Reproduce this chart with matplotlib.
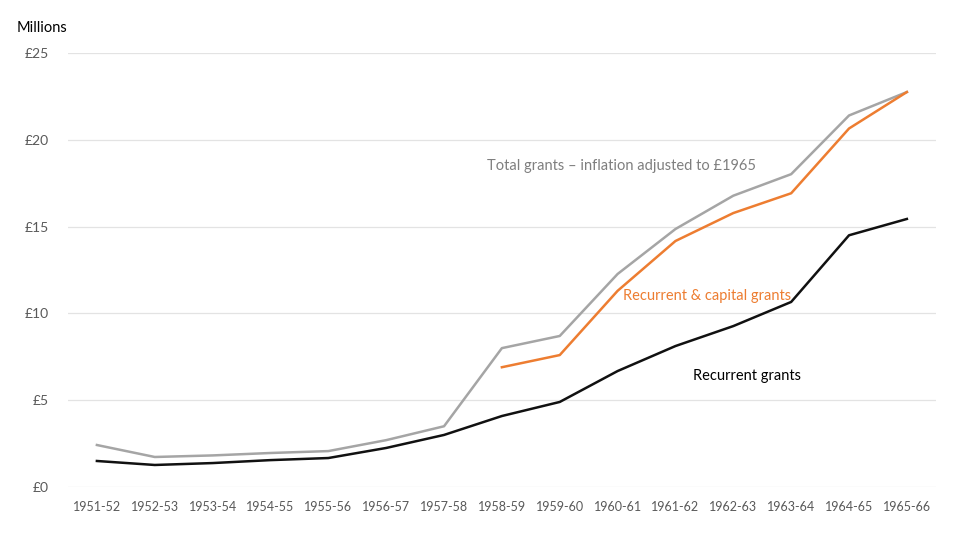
import matplotlib
matplotlib.use("Agg")
import matplotlib.pyplot as plt
import numpy as np

years = ['1951-52', '1952-53', '1953-54', '1954-55', '1955-56', '1956-57', '1957-58',
         '1958-59', '1959-60', '1960-61', '1961-62', '1962-63', '1963-64', '1964-65', '1965-66']

# Millions of pounds
total_adjusted = [2.42, 1.73, 1.82, 1.96, 2.07, 2.7, 3.5, 8.0, 8.7, 12.27, 14.86, 16.78, 18.02, 21.4, 22.75]
recurrent_capital = [np.nan] * 7 + [6.9, 7.6, 11.3, 14.17, 15.78, 16.92, 20.65, 22.75]
recurrent = [1.5, 1.27, 1.38, 1.55, 1.67, 2.25, 3.0, 4.09, 4.9, 6.68, 8.12, 9.27, 10.66, 14.5, 15.44]

plt.rcParams['font.family'] = ['Lato', 'DejaVu Sans']

fig = plt.figure(figsize=(9.6, 5.4), dpi=100)
ax = fig.add_axes([0.0708, 0.0981, 0.904, 0.8038])

x = np.arange(len(years))
ax.plot(x, total_adjusted, color='#A5A5A5', lw=1.8)
ax.plot(x, recurrent_capital, color='#ED7D31', lw=1.8)
ax.plot(x, recurrent, color='#111111', lw=1.8)

ax.set_xlim(-0.5, len(years) - 0.5)
ax.set_ylim(0, 25)
ax.set_yticks(range(0, 26, 5))
ax.set_yticklabels(['£%d' % v for v in range(0, 26, 5)])
ax.set_xticks(x)
ax.set_xticklabels(years)
ax.tick_params(axis='both', length=0, labelsize=9, colors='#595959')
ax.tick_params(axis='y', labelsize=10, pad=14)
ax.tick_params(axis='x', pad=10)
ax.grid(axis='y', color='#E3E3E3', lw=0.9)
ax.set_axisbelow(True)
for s in ax.spines.values():
    s.set_visible(False)

fig.text(0.017, 0.94, 'Millions', fontsize=10.5, color='black')

ax.text(6.74, 18.5, 'Total grants – inflation adjusted to £1965', color='#7F7F7F',
        fontsize=10.5, va='center')
ax.text(9.09, 11.0, 'Recurrent & capital grants', color='#ED7D31', fontsize=10.5, va='center')
ax.text(10.3, 6.4, 'Recurrent grants', color='black', fontsize=10.5, va='center')

fig.savefig('out.png', dpi=100)
